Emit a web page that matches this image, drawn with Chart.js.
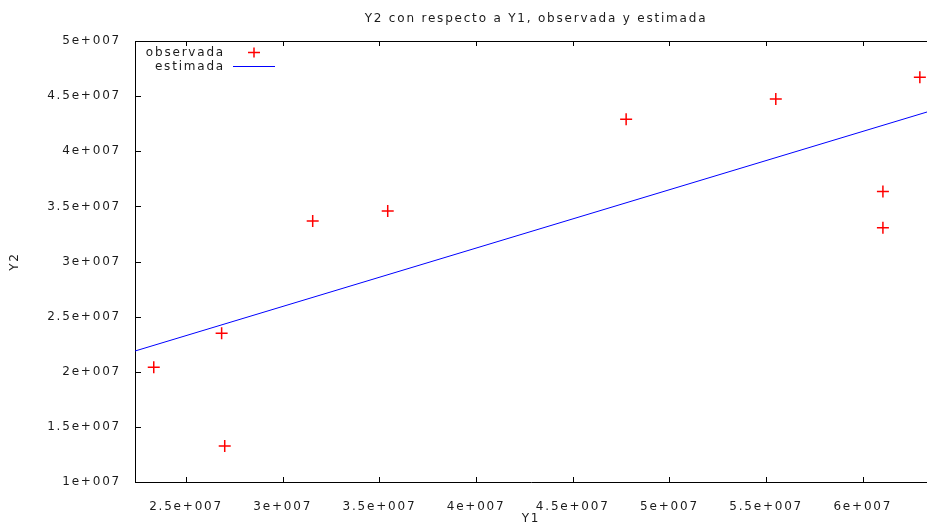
<!DOCTYPE html>
<html>
<head>
<meta charset="utf-8">
<script src="https://cdn.jsdelivr.net/npm/chart.js@4/dist/chart.umd.min.js"></script>
<style>
  html, body { margin: 0; padding: 0; background: #fff; }
  canvas { display: block; }
</style>
</head>
<body>
<canvas id="chart" width="927" height="522"></canvas>
<script>
  // observed Y1 / Y2 pairs
  const obsY1 = [2.333e7, 2.684e7, 2.700e7, 3.155e7, 3.543e7, 4.776e7, 5.550e7, 6.104e7, 6.104e7, 6.295e7];
  const obsY2 = [2.040e7, 2.349e7, 1.327e7, 3.367e7, 3.458e7, 4.290e7, 4.474e7, 3.634e7, 3.307e7, 4.671e7];
  // fitted line, ends at the plot edges
  const fitY1 = [2.236e7, 6.332e7];
  const fitY2 = [2.188e7, 4.356e7];

  const xTicks = [2.5e7, 3e7, 3.5e7, 4e7, 4.5e7, 5e7, 5.5e7, 6e7];
  const yTicks = [1e7, 1.5e7, 2e7, 2.5e7, 3e7, 3.5e7, 4e7, 4.5e7, 5e7];
  const xMin = 2.236e7, xMax = 6.332e7;
  const yMin = 1e7, yMax = 5e7;

  const titleText = 'Y2 con respecto a Y1, observada y estimada';
  const FONT = "'DejaVu Sans', Verdana, sans-serif";
  const SPACING = '1.8px';
  const TEXT = '#1a1a1a';

  function sci(v) {
    const e = Math.floor(Math.log10(Math.abs(v)) + 1e-9);
    const m = +(v / Math.pow(10, e)).toFixed(3);
    return m + 'e+' + String(e).padStart(3, '0');
  }

  const spacingPlugin = {
    id: 'spacing',
    beforeUpdate(chart) { chart.ctx.letterSpacing = SPACING; },
    beforeLayout(chart) { chart.ctx.letterSpacing = SPACING; },
    beforeDraw(chart) { chart.ctx.letterSpacing = SPACING; }
  };

  // gnuplot style frame: inward ticks, top border, title, legend
  const framePlugin = {
    id: 'frame',
    afterDraw(chart) {
      const ctx = chart.ctx;
      const a = chart.chartArea;
      const xs = chart.scales.x, ys = chart.scales.y;
      ctx.save();
      ctx.letterSpacing = SPACING;
      ctx.strokeStyle = '#000';
      ctx.lineWidth = 1;
      ctx.beginPath();
      ctx.moveTo(a.left, a.top + 0.5);
      ctx.lineTo(a.right, a.top + 0.5);
      xs.ticks.forEach((t) => {
        const px = Math.round(xs.getPixelForValue(t.value)) + 0.5;
        ctx.moveTo(px, a.bottom); ctx.lineTo(px, a.bottom - 5);
        ctx.moveTo(px, a.top); ctx.lineTo(px, a.top + 5);
      });
      ys.ticks.forEach((t) => {
        const py = Math.round(ys.getPixelForValue(t.value)) + 0.5;
        ctx.moveTo(a.left, py); ctx.lineTo(a.left + 6, py);
      });
      ctx.stroke();

      // title
      ctx.fillStyle = TEXT;
      ctx.font = '12px ' + FONT;
      ctx.textAlign = 'center';
      ctx.textBaseline = 'middle';
      ctx.fillText(titleText, (a.left + a.right) / 2 + 5, 19);

      // legend
      const ds = chart.data.datasets;
      ctx.textAlign = 'right';
      ctx.fillText(ds[0].label, 225, 53);
      ctx.fillText(ds[1].label, 225, 67);
      ctx.strokeStyle = ds[0].borderColor;
      ctx.lineWidth = ds[0].borderWidth;
      ctx.beginPath();
      ctx.moveTo(248, 52.5); ctx.lineTo(260, 52.5);
      ctx.moveTo(254, 47.5); ctx.lineTo(254, 57.5);
      ctx.stroke();
      ctx.strokeStyle = ds[1].borderColor;
      ctx.lineWidth = 1;
      ctx.beginPath();
      ctx.moveTo(233, 66.5); ctx.lineTo(275, 66.5);
      ctx.stroke();
      ctx.restore();
    }
  };

  new Chart(document.getElementById('chart'), {
    type: 'scatter',
    data: {
      datasets: [
        {
          label: 'observada',
          data: obsY1.map((x, i) => ({ x: x, y: obsY2[i] })),
          pointStyle: 'cross',
          pointRadius: 6,
          borderColor: '#ff0000',
          backgroundColor: '#ff0000',
          borderWidth: 1.5
        },
        {
          label: 'estimada',
          type: 'line',
          data: fitY1.map((x, i) => ({ x: x, y: fitY2[i] })),
          borderColor: '#0000ff',
          borderWidth: 1,
          pointRadius: 0,
          fill: false
        }
      ]
    },
    options: {
      responsive: false,
      animation: false,
      devicePixelRatio: 1,
      layout: { autoPadding: false, padding: { top: 41, right: 0, left: 0, bottom: 0 } },
      plugins: { legend: { display: false }, title: { display: false }, tooltip: { enabled: false } },
      scales: {
        x: {
          type: 'linear',
          min: xMin,
          max: xMax,
          grid: { display: false },
          border: { display: true, color: '#000', width: 1 },
          afterBuildTicks: (s) => { s.ticks = xTicks.map((v) => ({ value: v })); },
          ticks: {
            maxRotation: 0,
            autoSkip: false,
            padding: 10,
            color: TEXT,
            font: { family: FONT, size: 12 },
            callback: (v) => sci(v)
          },
          title: { display: true, text: 'Y1', color: TEXT, font: { family: FONT, size: 12 }, padding: { top: 4, bottom: -4 } },
          afterFit: (s) => { s.height = 40; s.paddingLeft = 0; s.paddingRight = 0; }
        },
        y: {
          type: 'linear',
          min: yMin,
          max: yMax,
          grid: { display: false },
          border: { display: true, color: '#000', width: 1 },
          afterBuildTicks: (s) => { s.ticks = yTicks.map((v) => ({ value: v })); },
          ticks: {
            autoSkip: false,
            padding: 6,
            color: TEXT,
            font: { family: FONT, size: 12 },
            callback: (v) => sci(v)
          },
          title: { display: true, text: 'Y2', color: TEXT, font: { family: FONT, size: 12 }, padding: { top: 8, bottom: 0 } },
          afterFit: (s) => { s.width = 135; s.paddingTop = 0; s.paddingBottom = 0; }
        }
      }
    },
    plugins: [spacingPlugin, framePlugin]
  });
</script>
</body>
</html>
